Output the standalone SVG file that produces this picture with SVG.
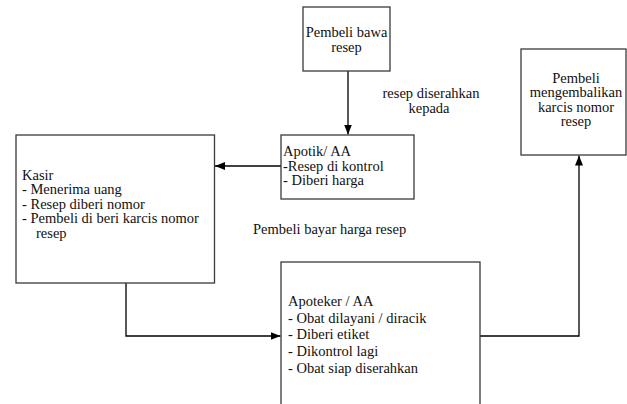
<svg xmlns="http://www.w3.org/2000/svg" width="627" height="404" viewBox="0 0 627 404">
  <defs>
    <marker id="arrow" viewBox="0 0 10 8" refX="10" refY="4" markerWidth="10" markerHeight="8" markerUnits="userSpaceOnUse" orient="auto">
      <path d="M0,0 L10,4 L0,8 Z" fill="#000"/>
    </marker>
  </defs>
  <style>
    .box { fill: #fff; stroke: #3a3a3a; stroke-width: 1.3; }
    text { font-family: 'Liberation Serif', 'Times New Roman', 'DejaVu Serif', serif; font-size: 14.5px; fill: #111; }
    .mid { text-anchor: middle; }
    .link { fill: none; stroke: #000; stroke-width: 1.3; marker-end: url(#arrow); }
  </style>
  <rect width="627" height="404" fill="#fff"/>

  <g id="connectors">
    <path class="link" d="M348,71 V134.5"/>
    <path class="link" d="M281,166 H215"/>
    <path class="link" d="M126,283 V336 H280.5"/>
    <path class="link" d="M480,336 H579 V155.5"/>
  </g>

  <g id="pembeli-bawa">
    <rect class="box" x="303" y="7" width="87" height="64"/>
    <text class="mid" x="346.5" y="37">Pembeli bawa</text>
    <text class="mid" x="346.5" y="51.5">resep</text>
  </g>

  <g id="apotik">
    <rect class="box" x="281" y="135" width="133" height="64"/>
    <text x="283" y="156">Apotik/ AA</text>
    <text x="283" y="170.5">-Resep di kontrol</text>
    <text x="283" y="185">- Diberi harga</text>
  </g>

  <g id="kasir">
    <rect class="box" x="16" y="135" width="198.5" height="148"/>
    <text x="22" y="179.5">Kasir</text>
    <text x="22" y="194">- Menerima uang</text>
    <text x="22" y="208.5">- Resep diberi nomor</text>
    <text x="22" y="223">- Pembeli di beri karcis nomor</text>
    <text x="36" y="237.5">resep</text>
  </g>

  <g id="apoteker">
    <rect class="box" x="281" y="262" width="199" height="160"/>
    <text x="288" y="306">Apoteker / AA</text>
    <text x="288" y="322.7">- Obat dilayani / diracik</text>
    <text x="288" y="339.4">- Diberi etiket</text>
    <text x="288" y="356.1">- Dikontrol  lagi</text>
    <text x="288" y="372.8">- Obat siap diserahkan</text>
  </g>

  <g id="pembeli-kembali">
    <rect class="box" x="521" y="49" width="105" height="106"/>
    <text class="mid" x="576" y="82.5">Pembeli</text>
    <text class="mid" x="576" y="97">mengembalikan</text>
    <text class="mid" x="576" y="111.5">karcis nomor</text>
    <text class="mid" x="576" y="126">resep</text>
  </g>

  <g id="labels">
    <text class="mid" x="431" y="98">resep diserahkan</text>
    <text class="mid" x="429" y="113">kepada</text>
    <text x="253" y="234">Pembeli bayar harga resep</text>
  </g>
</svg>
